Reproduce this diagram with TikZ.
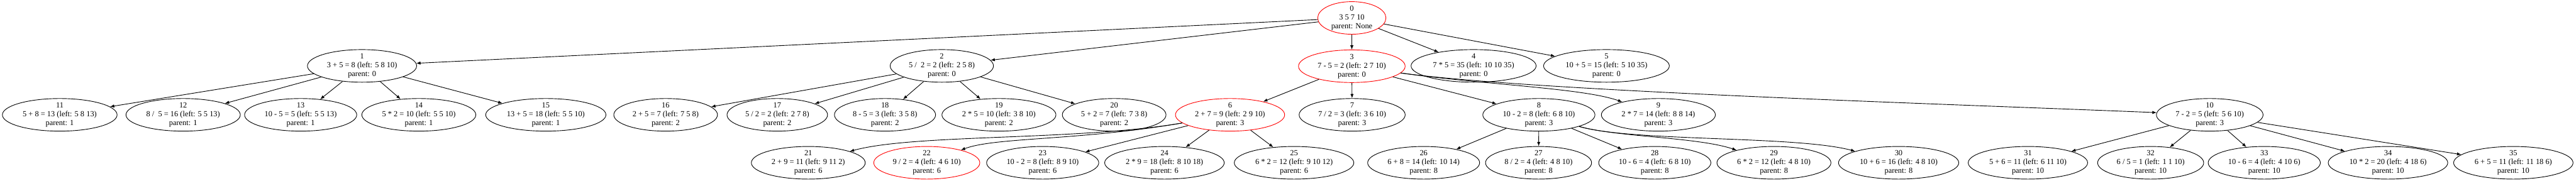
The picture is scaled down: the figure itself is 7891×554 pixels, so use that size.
\documentclass[tikz,border=0pt]{standalone}
\usepackage{fontspec}
\setmainfont{Liberation Serif}
\usetikzlibrary{shapes.geometric,arrows.meta}
\begin{document}
\begin{tikzpicture}[x=0.02cm, y=-0.02cm,
        state/.style={draw, ellipse, line width=1pt, align=center, inner xsep=6.2pt, inner ysep=-4pt,
            minimum height=2cm, font=\fontsize{13.6}{15.4}\selectfont},
        chosen/.style={state, draw=red},
        edge/.style={line width=1pt, -{Latex[length=2.6mm,width=2mm]}}]
            \useasboundingbox (0,0) rectangle (7891,554);
            \node[chosen] (n0) at (4141,55) {0\\3 5 7 10\\parent: None};
            \node[state] (n1) at (1109,202) {1\\3 + 5 = 8 (left: 5 8 10)\\parent: 0};
            \node[state] (n2) at (2885,202) {2\\5 /~ 2 = 2 (left: 2 5 8)\\parent: 0};
            \node[chosen] (n3) at (4141,203) {3\\7 - 5 = 2 (left: 2 7 10)\\parent: 0};
            \node[state] (n4) at (4514,202) {4\\7 * 5 = 35 (left: 10 10 35)\\parent: 0};
            \node[state] (n5) at (4921,202) {5\\10 + 5 = 15 (left: 5 10 35)\\parent: 0};
            \node[state] (n11) at (183,352) {11\\5 + 8 = 13 (left: 5 8 13)\\parent: 1};
            \node[state] (n12) at (561,352) {12\\8 /~ 5 = 16 (left: 5 5 13)\\parent: 1};
            \node[state] (n13) at (921,352) {13\\10 - 5 = 5 (left: 5 5 13)\\parent: 1};
            \node[state] (n14) at (1283,352) {14\\5 * 2 = 10 (left: 5 5 10)\\parent: 1};
            \node[state] (n15) at (1672,352) {15\\13 + 5 = 18 (left: 5 5 10)\\parent: 1};
            \node[state] (n16) at (2039,352) {16\\2 + 5 = 7 (left: 7 5 8)\\parent: 2};
            \node[state] (n17) at (2381,352) {17\\5 / 2 = 2 (left: 2 7 8)\\parent: 2};
            \node[state] (n18) at (2711,352) {18\\8 - 5 = 3 (left: 3 5 8)\\parent: 2};
            \node[state] (n19) at (3060,352) {19\\2 * 5 = 10 (left: 3 8 10)\\parent: 2};
            \node[state] (n20) at (3413,352) {20\\5 + 2 = 7 (left: 7 3 8)\\parent: 2};
            \node[chosen] (n6) at (3768,352) {6\\2 + 7 = 9 (left: 2 9 10)\\parent: 3};
            \node[state] (n7) at (4142,352) {7\\7 / 2 = 3 (left: 3 6 10)\\parent: 3};
            \node[state] (n8) at (4714,352) {8\\10 - 2 = 8 (left: 6 8 10)\\parent: 3};
            \node[state] (n9) at (5080,352) {9\\2 * 7 = 14 (left: 8 8 14)\\parent: 3};
            \node[state] (n10) at (6769,352) {10\\7 - 2 = 5 (left: 5 6 10)\\parent: 3};
            \node[state] (n21) at (2476,499) {21\\2 + 9 = 11 (left: 9 11 2)\\parent: 6};
            \node[chosen] (n22) at (2839,499) {22\\9 / 2 = 4 (left: 4 6 10)\\parent: 6};
            \node[state] (n23) at (3194,499) {23\\10 - 2 = 8 (left: 8 9 10)\\parent: 6};
            \node[state] (n24) at (3567,499) {24\\2 * 9 = 18 (left: 8 10 18)\\parent: 6};
            \node[state] (n25) at (3964,499) {25\\6 * 2 = 12 (left: 9 10 12)\\parent: 6};
            \node[state] (n26) at (4361,499) {26\\6 + 8 = 14 (left: 10 14)\\parent: 8};
            \node[state] (n27) at (4713,499) {27\\8 / 2 = 4 (left: 4 8 10)\\parent: 8};
            \node[state] (n28) at (5069,499) {28\\10 - 6 = 4 (left: 6 8 10)\\parent: 8};
            \node[state] (n29) at (5434,499) {29\\6 * 2 = 12 (left: 4 8 10)\\parent: 8};
            \node[state] (n30) at (5816,499) {30\\10 + 6 = 16 (left: 4 8 10)\\parent: 8};
            \node[state] (n31) at (6212,499) {31\\5 + 6 = 11 (left: 6 11 10)\\parent: 10};
            \node[state] (n32) at (6588,499) {32\\6 / 5 = 1 (left: 1 1 10)\\parent: 10};
            \node[state] (n33) at (6936,499) {33\\10 - 6 = 4 (left: 4 10 6)\\parent: 10};
            \node[state] (n34) at (7315,499) {34\\10 * 2 = 20 (left: 4 18 6)\\parent: 10};
            \node[state] (n35) at (7699,499) {35\\6 + 5 = 11 (left: 11 18 6)\\parent: 10};
            \draw[edge] (n0) -- (n1);
            \draw[edge] (n0) -- (n2);
            \draw[edge] (n0) -- (n3);
            \draw[edge] (n0) -- (n4);
            \draw[edge] (n0) -- (n5);
            \draw[edge] (n1) -- (n11);
            \draw[edge] (n1) -- (n12);
            \draw[edge] (n1) -- (n13);
            \draw[edge] (n1) -- (n14);
            \draw[edge] (n1) -- (n15);
            \draw[edge] (n2) -- (n16);
            \draw[edge] (n2) -- (n17);
            \draw[edge] (n2) -- (n18);
            \draw[edge] (n2) -- (n19);
            \draw[edge] (n2) -- (n20);
            \draw[edge] (n3) -- (n6);
            \draw[edge] (n3) -- (n7);
            \draw[edge] (n3) -- (n8);
            \draw[edge] (n3) .. controls (4550,260) and (4850,270) .. (n9);
            \draw[edge] (n3) .. controls (4700,280) and (6000,320) .. (n10);
            \draw[edge] (n6) .. controls (3300,432) and (2800,410) .. (n21);
            \draw[edge] (n6) .. controls (3300,432) and (3050,420) .. (n22);
            \draw[edge] (n6) -- (n23);
            \draw[edge] (n6) -- (n24);
            \draw[edge] (n6) -- (n25);
            \draw[edge] (n8) -- (n26);
            \draw[edge] (n8) -- (n27);
            \draw[edge] (n8) -- (n28);
            \draw[edge] (n8) .. controls (4950,420) and (5200,420) .. (n29);
            \draw[edge] (n8) .. controls (5000,435) and (5500,415) .. (n30);
            \draw[edge] (n10) -- (n31);
            \draw[edge] (n10) -- (n32);
            \draw[edge] (n10) -- (n33);
            \draw[edge] (n10) -- (n34);
            \draw[edge] (n10) -- (n35);
        \end{tikzpicture}
\end{document}
